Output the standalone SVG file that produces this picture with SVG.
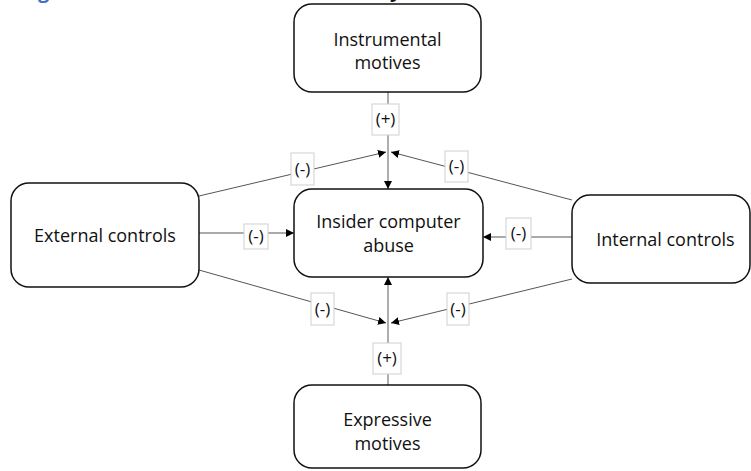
<svg xmlns="http://www.w3.org/2000/svg" width="751" height="471" viewBox="0 0 751 471">
  <defs>
    <style>
      .node rect { fill: #ffffff; stroke: #111111; stroke-width: 1.5; }
      .node text { font-family: "Open Sans", "Liberation Sans", sans-serif; font-size: 18px; fill: #111111; text-anchor: middle; }
      .edge { fill: none; stroke: #555555; stroke-width: 1; }
      .edge.v { stroke: #8c8c8c; stroke-width: 1.4; }
      .tag rect { fill: #ffffff; stroke: #cfcfcf; stroke-width: 1; }
      .tag text { font-family: "Open Sans", "Liberation Sans", sans-serif; font-size: 17px; fill: #111111; text-anchor: middle; }
      .title { font-family: "Open Sans", "Liberation Sans", sans-serif; font-size: 20px; font-weight: bold; }
    </style>
    <marker id="arrow" viewBox="0 0 10 10" refX="10" refY="5" markerWidth="8" markerHeight="8" markerUnits="userSpaceOnUse" orient="auto">
      <path d="M0,0 L10,5 L0,10 Z" fill="#000000"/>
    </marker>
  </defs>

  <rect width="751" height="471" fill="#ffffff"/>

  <!-- caption line above the figure, mostly off the top edge -->
  <text class="title" x="38" y="-2" fill="#4472c4">g</text>
  <text class="title" x="390" y="-3" fill="#111111">y</text>

  <!-- connectors -->
  <g id="connectors">
    <line class="edge v" x1="388" y1="92" x2="388" y2="189" marker-end="url(#arrow)"/>
    <line class="edge" x1="199" y1="196" x2="386" y2="152" marker-end="url(#arrow)"/>
    <line class="edge" x1="572" y1="200" x2="391" y2="152" marker-end="url(#arrow)"/>
    <line class="edge" x1="199" y1="233" x2="294" y2="233" marker-end="url(#arrow)"/>
    <line class="edge" x1="572" y1="237" x2="483" y2="237" marker-end="url(#arrow)"/>
    <line class="edge v" x1="388" y1="385" x2="388" y2="277" marker-end="url(#arrow)"/>
    <line class="edge" x1="199" y1="270" x2="386" y2="323" marker-end="url(#arrow)"/>
    <line class="edge" x1="572" y1="279" x2="391" y2="323" marker-end="url(#arrow)"/>

    <g class="tag"><rect x="372" y="104" width="27" height="31"/><text x="385.5" y="125">(+)</text></g>
    <g class="tag"><rect x="291" y="153" width="23" height="32"/><text x="302.5" y="174.5">(-)</text></g>
    <g class="tag"><rect x="445" y="151" width="23" height="31"/><text x="456.5" y="172">(-)</text></g>
    <g class="tag"><rect x="244" y="224" width="24" height="25"/><text x="256" y="242">(-)</text></g>
    <g class="tag"><rect x="506" y="218" width="25" height="31"/><text x="518.5" y="239">(-)</text></g>
    <g class="tag"><rect x="311" y="293" width="23" height="32"/><text x="322.5" y="314.5">(-)</text></g>
    <g class="tag"><rect x="447" y="293" width="22" height="32"/><text x="458" y="314.5">(-)</text></g>
    <g class="tag"><rect x="373" y="343" width="28" height="31"/><text x="387" y="364">(+)</text></g>
  </g>

  <!-- nodes -->
  <g id="instrumental" class="node">
    <rect x="294" y="4" width="187" height="88" rx="18" ry="18"/>
    <text x="387.5" y="46">Instrumental</text>
    <text x="387.5" y="69">motives</text>
  </g>

  <g id="external" class="node">
    <rect x="11" y="183" width="188" height="104" rx="18" ry="18"/>
    <text x="105" y="241.5">External controls</text>
  </g>

  <g id="insider" class="node">
    <rect x="294" y="189" width="189" height="88" rx="18" ry="18"/>
    <text x="388.5" y="228">Insider computer</text>
    <text x="388.5" y="252">abuse</text>
  </g>

  <g id="internal" class="node">
    <rect x="572" y="195" width="178" height="88" rx="18" ry="18"/>
    <text x="665.5" y="246">Internal controls</text>
  </g>

  <g id="expressive" class="node">
    <rect x="294" y="385" width="187" height="83" rx="18" ry="18"/>
    <text x="387.5" y="426">Expressive</text>
    <text x="387.5" y="450">motives</text>
  </g>
</svg>
